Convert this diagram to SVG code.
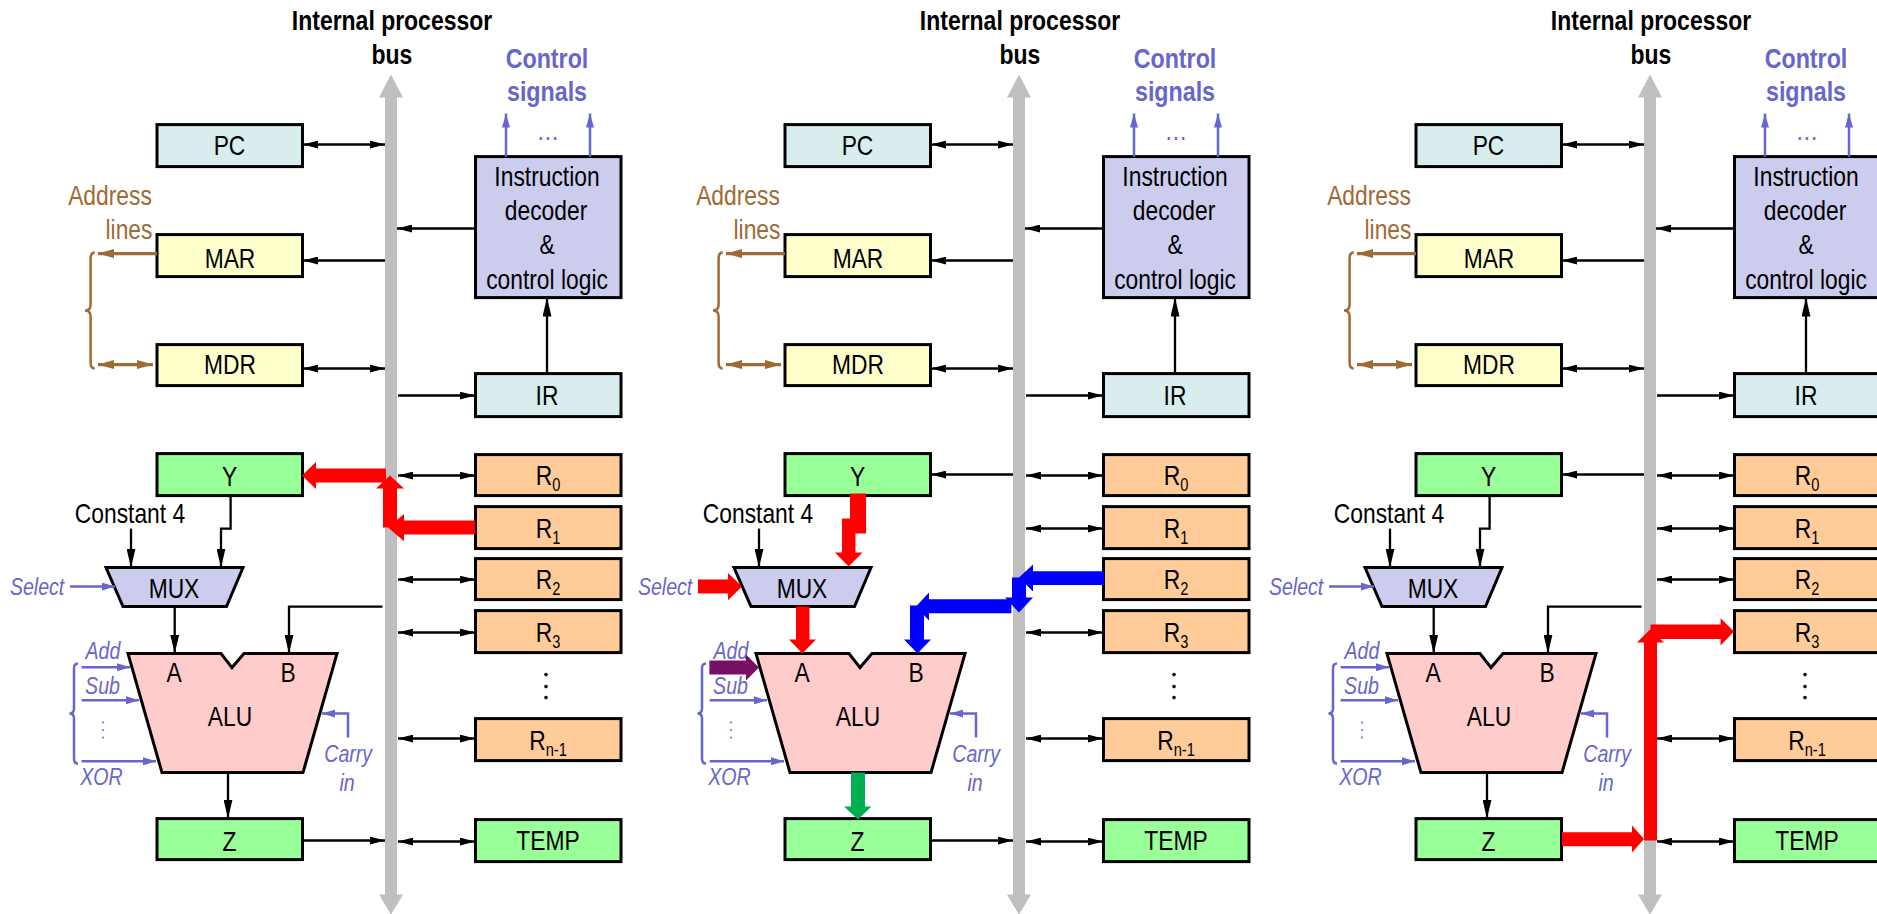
<svg xmlns="http://www.w3.org/2000/svg" width="1877" height="914" viewBox="0 0 1877 914">
<style>
text{font-family:"Liberation Sans",Arial,sans-serif;font-size:28px;text-anchor:middle;fill:#000;transform-box:fill-box;transform-origin:center;transform:scaleX(.815)}
.hd{font-weight:bold;transform:scaleX(.82)}
.ctl{font-weight:bold;fill:#6666cc;transform:scaleX(.83)}
.it{font-style:italic;font-size:24px;fill:#6666cc}
.br{fill:#a06a35}
.blu{fill:#6666cc}
.sub{font-size:18px}
.n{stroke:#000;stroke-width:3}
.teal{fill:#d9edee}.yel{fill:#ffffcc}.grn{fill:#99ff99}.org{fill:#ffcc99}.lav{fill:#ccccee}.pnk{fill:#ffcccc}
.bus{fill:#bfbfbf}
.kd{fill:none;stroke:#000;stroke-width:2.5;marker-start:url(#hb);marker-end:url(#hb)}
.kh{fill:none;stroke:#000;stroke-width:2.5;marker-end:url(#hb)}
.kv{fill:none;stroke:#000;stroke-width:2.3;marker-end:url(#vb)}
.c{fill:none;stroke:#6666cc;stroke-width:2.5}
.ch{fill:none;stroke:#6666cc;stroke-width:2.5;marker-end:url(#bh)}
.cv{fill:none;stroke:#6666cc;stroke-width:2.5;marker-end:url(#bv)}
.b{fill:none;stroke:#a06a35;stroke-width:2.5}
.bh{fill:none;stroke:#a06a35;stroke-width:3.2;marker-end:url(#nh)}
.bd{fill:none;stroke:#a06a35;stroke-width:3.2;marker-start:url(#nh);marker-end:url(#nh)}
.red{fill:#ff0000}.bl{fill:#0000ff}.pur{fill:#770f66}.gr{fill:#00b050}
.bd0{fill:#000}.bd1{fill:#6666cc}
</style>
<defs>
<marker id="hb" viewBox="0 0 15 8" refX="15" refY="4" markerWidth="15" markerHeight="8" markerUnits="userSpaceOnUse" orient="auto-start-reverse"><path d="M0,0L15,4L0,8Z" fill="#000"/></marker>
<marker id="vb" viewBox="0 0 19 9" refX="19" refY="4.5" markerWidth="19" markerHeight="9" markerUnits="userSpaceOnUse" orient="auto"><path d="M0,0L19,4.5L0,9Z" fill="#000"/></marker>
<marker id="bh" viewBox="0 0 13 8" refX="13" refY="4" markerWidth="13" markerHeight="8" markerUnits="userSpaceOnUse" orient="auto"><path d="M0,0L13,4L0,8Z" fill="#6666cc"/></marker>
<marker id="bv" viewBox="0 0 14 8" refX="14" refY="4" markerWidth="14" markerHeight="8" markerUnits="userSpaceOnUse" orient="auto"><path d="M0,0L14,4L0,8Z" fill="#6666cc"/></marker>
<marker id="nh" viewBox="0 0 16 9" refX="16" refY="4.5" markerWidth="16" markerHeight="9" markerUnits="userSpaceOnUse" orient="auto-start-reverse"><path d="M0,0L16,4.5L0,9Z" fill="#a06a35"/></marker>
</defs>
<rect width="1877" height="914" fill="#fff"/>

<g id="panel1" transform="translate(0,.6)">
<g id="p1-bus"><path class="bus" d="M391,74L403,97H397V894H403L391,914L379,894H385V97H379Z"/><text class="hd" x="392" y="29.5">Internal processor</text><text class="hd" x="392" y="63">bus</text></g>
<g id="p1-pc"><rect class="n teal" x="157" y="124" width="145.500" height="42"/><text x="229.500" y="154">PC</text></g>
<g id="p1-mar"><rect class="n yel" x="157" y="234" width="145.500" height="42"/><text x="230" y="267">MAR</text></g>
<g id="p1-mdr"><rect class="n yel" x="157" y="344" width="145.500" height="41"/><text x="230" y="373">MDR</text></g>
<g id="p1-dec"><rect class="n lav" x="475.500" y="156" width="145.500" height="141"/><text x="547" y="185">Instruction</text><text x="546" y="219">decoder</text><text x="547" y="253">&amp;</text><text x="547" y="288">control logic</text></g>
<g id="p1-ir"><rect class="n teal" x="475.500" y="373" width="145.500" height="43"/><text x="547" y="404">IR</text></g>
<g id="p1-y"><rect class="n grn" x="157" y="453" width="145.500" height="42"/><text x="229.500" y="485">Y</text></g>
<g id="p1-r0"><rect class="n org" x="475.500" y="454" width="145.500" height="41"/><text x="548" y="484">R<tspan class="sub" dy="6">0</tspan></text></g>
<g id="p1-r1"><rect class="n org" x="475.500" y="506" width="145.500" height="42"/><text x="548" y="537">R<tspan class="sub" dy="6">1</tspan></text></g>
<g id="p1-r2"><rect class="n org" x="475.500" y="558" width="145.500" height="41"/><text x="548" y="588">R<tspan class="sub" dy="6">2</tspan></text></g>
<g id="p1-r3"><rect class="n org" x="475.500" y="610" width="145.500" height="42"/><text x="548" y="641">R<tspan class="sub" dy="6">3</tspan></text></g>
<g id="p1-dots"><circle class="bd0" cx="546" cy="674" r="1.800"/><circle class="bd0" cx="546" cy="686" r="1.800"/><circle class="bd0" cx="546" cy="697" r="1.800"/></g>
<g id="p1-rn"><rect class="n org" x="475.500" y="718" width="145.500" height="42"/><text x="548" y="749">R<tspan class="sub" dy="6">n-1</tspan></text></g>
<g id="p1-temp"><rect class="n grn" x="475.500" y="819" width="145.500" height="42"/><text x="548" y="849">TEMP</text></g>
<g id="p1-z"><rect class="n grn" x="157" y="818" width="145.500" height="41"/><text x="229.500" y="850">Z</text></g>
<g id="p1-mux"><path class="n lav" d="M106,567H243L226.500,606H123Z"/><text x="174" y="597">MUX</text></g>
<g id="p1-alu"><path class="n pnk" d="M128,653H221L232,667L244,653H337L303,772H162Z"/><text x="174" y="681">A</text><text x="288" y="681">B</text><text x="230" y="725">ALU</text></g>
<g id="p1-labels"><text class="ctl" x="547" y="67">Control</text><text class="ctl" x="547" y="100">signals</text><text class="blu" x="548" y="139">…</text><text class="br" x="110" y="204">Address</text><text class="br" x="129" y="238.700">lines</text><text x="130" y="522">Constant 4</text><text class="it" x="37" y="594">Select</text><text class="it" x="103" y="658">Add</text><text class="it" x="102.500" y="693">Sub</text><text class="it" x="101.600" y="784">XOR</text><text class="it" x="348" y="761">Carry</text><text class="it" x="347" y="790">in</text><circle class="bd1" cx="103" cy="722" r="1"/><circle class="bd1" cx="103" cy="729.500" r="1"/><circle class="bd1" cx="103" cy="737" r="1"/></g>
<g id="p1-connectors">
<path class="kd" d="M303,144H385"/><path class="kh" d="M475,228H397"/><path class="kh" d="M385,260H303"/><path class="kd" d="M303,368H385"/><path class="kh" d="M398,395H475"/><path class="kv" d="M547,373V297"/>
<path class="kd" d="M398,475H475"/><path class="kd" d="M398,579H475"/><path class="kd" d="M398,632H475"/><path class="kd" d="M398,738H475"/><path class="kd" d="M398,841H475"/><path class="kh" d="M303,840H385"/>
<path class="kv" d="M230.600,495V528H221V567"/><path class="kv" d="M131,528V567"/><path class="kv" d="M174.700,606V653"/><path class="kv" d="M382.500,606H289V653"/><path class="kv" d="M228,772V818"/>
<path class="cv" d="M506,156V113"/><path class="cv" d="M590,156V113"/>
<path class="ch" d="M70,586H115"/><path class="ch" d="M81.600,666.700H130"/><path class="ch" d="M81.600,699.700H139"/><path class="ch" d="M81.600,760.700H156"/><path class="ch" d="M348,737V713H322"/>
<path class="c" d="M78,663Q74,663 74,668V708Q74,713 69.500,713Q74,713 74,718V758Q74,763 78,763"/>
<path class="b" d="M94.700,252Q90.600,252 90.600,258V304Q90.600,310 85,310Q90.600,310 90.600,316V362Q90.600,368 94.700,368"/>
<path class="bh" d="M157,253H98"/><path class="bd" d="M98,364H153"/>
<path class="red" d="M386,468V482H316V488.500L302,475L316,461.500V468Z"/>
<path class="red" d="M475,520V534H404V540.700L388,527L404,513.300V520Z"/>
<path class="red" d="M383,527V488H376L390,475L404,488H397V527Z"/>
</g>
</g>

<g id="panel2" transform="translate(628,.6)">
<g id="p2-bus"><path class="bus" d="M391,74L403,97H397V894H403L391,914L379,894H385V97H379Z"/><text class="hd" x="392" y="29.5">Internal processor</text><text class="hd" x="392" y="63">bus</text></g>
<g id="p2-pc"><rect class="n teal" x="157" y="124" width="145.500" height="42"/><text x="229.500" y="154">PC</text></g>
<g id="p2-mar"><rect class="n yel" x="157" y="234" width="145.500" height="42"/><text x="230" y="267">MAR</text></g>
<g id="p2-mdr"><rect class="n yel" x="157" y="344" width="145.500" height="41"/><text x="230" y="373">MDR</text></g>
<g id="p2-dec"><rect class="n lav" x="475.500" y="156" width="145.500" height="141"/><text x="547" y="185">Instruction</text><text x="546" y="219">decoder</text><text x="547" y="253">&amp;</text><text x="547" y="288">control logic</text></g>
<g id="p2-ir"><rect class="n teal" x="475.500" y="373" width="145.500" height="43"/><text x="547" y="404">IR</text></g>
<g id="p2-y"><rect class="n grn" x="157" y="453" width="145.500" height="42"/><text x="229.500" y="485">Y</text></g>
<g id="p2-r0"><rect class="n org" x="475.500" y="454" width="145.500" height="41"/><text x="548" y="484">R<tspan class="sub" dy="6">0</tspan></text></g>
<g id="p2-r1"><rect class="n org" x="475.500" y="506" width="145.500" height="42"/><text x="548" y="537">R<tspan class="sub" dy="6">1</tspan></text></g>
<g id="p2-r2"><rect class="n org" x="475.500" y="558" width="145.500" height="41"/><text x="548" y="588">R<tspan class="sub" dy="6">2</tspan></text></g>
<g id="p2-r3"><rect class="n org" x="475.500" y="610" width="145.500" height="42"/><text x="548" y="641">R<tspan class="sub" dy="6">3</tspan></text></g>
<g id="p2-dots"><circle class="bd0" cx="546" cy="674" r="1.800"/><circle class="bd0" cx="546" cy="686" r="1.800"/><circle class="bd0" cx="546" cy="697" r="1.800"/></g>
<g id="p2-rn"><rect class="n org" x="475.500" y="718" width="145.500" height="42"/><text x="548" y="749">R<tspan class="sub" dy="6">n-1</tspan></text></g>
<g id="p2-temp"><rect class="n grn" x="475.500" y="819" width="145.500" height="42"/><text x="548" y="849">TEMP</text></g>
<g id="p2-z"><rect class="n grn" x="157" y="818" width="145.500" height="41"/><text x="229.500" y="850">Z</text></g>
<g id="p2-mux"><path class="n lav" d="M106,567H243L226.500,606H123Z"/><text x="174" y="597">MUX</text></g>
<g id="p2-alu"><path class="n pnk" d="M128,653H221L232,667L244,653H337L303,772H162Z"/><text x="174" y="681">A</text><text x="288" y="681">B</text><text x="230" y="725">ALU</text></g>
<g id="p2-labels"><text class="ctl" x="547" y="67">Control</text><text class="ctl" x="547" y="100">signals</text><text class="blu" x="548" y="139">…</text><text class="br" x="110" y="204">Address</text><text class="br" x="129" y="238.700">lines</text><text x="130" y="522">Constant 4</text><text class="it" x="37" y="594">Select</text><text class="it" x="103" y="658">Add</text><text class="it" x="102.500" y="693">Sub</text><text class="it" x="101.600" y="784">XOR</text><text class="it" x="348" y="761">Carry</text><text class="it" x="347" y="790">in</text><circle class="bd1" cx="103" cy="722" r="1"/><circle class="bd1" cx="103" cy="729.500" r="1"/><circle class="bd1" cx="103" cy="737" r="1"/></g>
<g id="p2-connectors">
<path class="kd" d="M303,144H385"/><path class="kh" d="M475,228H397"/><path class="kh" d="M385,260H303"/><path class="kd" d="M303,368H385"/><path class="kh" d="M398,395H475"/><path class="kv" d="M547,373V297"/>
<path class="kh" d="M385,474H303"/><path class="kd" d="M398,475H475"/><path class="kd" d="M398,528H475"/><path class="kd" d="M398,632H475"/><path class="kd" d="M398,738H475"/><path class="kd" d="M398,841H475"/><path class="kh" d="M303,840H385"/>
<path class="kv" d="M131,528V567"/>
<path class="cv" d="M506,156V113"/><path class="cv" d="M590,156V113"/>
<path class="ch" d="M81.600,699.700H139"/><path class="ch" d="M81.600,760.700H156"/><path class="ch" d="M348,737V713H322"/>
<path class="c" d="M78,663Q74,663 74,668V708Q74,713 69.500,713Q74,713 74,718V758Q74,763 78,763"/>
<path class="b" d="M94.700,252Q90.600,252 90.600,258V304Q90.600,310 85,310Q90.600,310 90.600,316V362Q90.600,368 94.700,368"/>
<path class="bh" d="M157,253H98"/><path class="bd" d="M98,364H153"/>
<path class="red" d="M222,493H238V533H227.500V552H234.500L220.600,566L207,552H214V518H222Z"/>
<path class="red" d="M70,579H100V572.300L114,586L100,599.700V593H70Z"/>
<path class="red" d="M168,606H181.500V639H188L174.400,653L161,639H168Z"/>
<path class="bl" d="M476,570.700V584.300H405V591L391,577L405,564V570.700Z"/>
<path class="bl" d="M384,577H398V597H405L391,612L377,597H384Z"/>
<path class="bl" d="M383.400,598.700V612.700H301V620L288,606L301,592V598.700Z"/>
<path class="bl" d="M282,605H296V639H303L289.500,653L276,639H282Z"/>
<path class="pur" d="M81.400,660H118V654L131,667L118,680V674H81.400Z"/>
<path class="gr" d="M223,772H237V806H243.500L230,819L216,806H223Z"/>
</g>
</g>

<g id="panel3" transform="translate(1259,.6)">
<g id="p3-bus"><path class="bus" d="M391,74L403,97H397V894H403L391,914L379,894H385V97H379Z"/><text class="hd" x="392" y="29.5">Internal processor</text><text class="hd" x="392" y="63">bus</text></g>
<g id="p3-pc"><rect class="n teal" x="157" y="124" width="145.500" height="42"/><text x="229.500" y="154">PC</text></g>
<g id="p3-mar"><rect class="n yel" x="157" y="234" width="145.500" height="42"/><text x="230" y="267">MAR</text></g>
<g id="p3-mdr"><rect class="n yel" x="157" y="344" width="145.500" height="41"/><text x="230" y="373">MDR</text></g>
<g id="p3-dec"><rect class="n lav" x="475.500" y="156" width="145.500" height="141"/><text x="547" y="185">Instruction</text><text x="546" y="219">decoder</text><text x="547" y="253">&amp;</text><text x="547" y="288">control logic</text></g>
<g id="p3-ir"><rect class="n teal" x="475.500" y="373" width="145.500" height="43"/><text x="547" y="404">IR</text></g>
<g id="p3-y"><rect class="n grn" x="157" y="453" width="145.500" height="42"/><text x="229.500" y="485">Y</text></g>
<g id="p3-r0"><rect class="n org" x="475.500" y="454" width="145.500" height="41"/><text x="548" y="484">R<tspan class="sub" dy="6">0</tspan></text></g>
<g id="p3-r1"><rect class="n org" x="475.500" y="506" width="145.500" height="42"/><text x="548" y="537">R<tspan class="sub" dy="6">1</tspan></text></g>
<g id="p3-r2"><rect class="n org" x="475.500" y="558" width="145.500" height="41"/><text x="548" y="588">R<tspan class="sub" dy="6">2</tspan></text></g>
<g id="p3-r3"><rect class="n org" x="475.500" y="610" width="145.500" height="42"/><text x="548" y="641">R<tspan class="sub" dy="6">3</tspan></text></g>
<g id="p3-dots"><circle class="bd0" cx="546" cy="674" r="1.800"/><circle class="bd0" cx="546" cy="686" r="1.800"/><circle class="bd0" cx="546" cy="697" r="1.800"/></g>
<g id="p3-rn"><rect class="n org" x="475.500" y="718" width="145.500" height="42"/><text x="548" y="749">R<tspan class="sub" dy="6">n-1</tspan></text></g>
<g id="p3-temp"><rect class="n grn" x="475.500" y="819" width="145.500" height="42"/><text x="548" y="849">TEMP</text></g>
<g id="p3-z"><rect class="n grn" x="157" y="818" width="145.500" height="41"/><text x="229.500" y="850">Z</text></g>
<g id="p3-mux"><path class="n lav" d="M106,567H243L226.500,606H123Z"/><text x="174" y="597">MUX</text></g>
<g id="p3-alu"><path class="n pnk" d="M128,653H221L232,667L244,653H337L303,772H162Z"/><text x="174" y="681">A</text><text x="288" y="681">B</text><text x="230" y="725">ALU</text></g>
<g id="p3-labels"><text class="ctl" x="547" y="67">Control</text><text class="ctl" x="547" y="100">signals</text><text class="blu" x="548" y="139">…</text><text class="br" x="110" y="204">Address</text><text class="br" x="129" y="238.700">lines</text><text x="130" y="522">Constant 4</text><text class="it" x="37" y="594">Select</text><text class="it" x="103" y="658">Add</text><text class="it" x="102.500" y="693">Sub</text><text class="it" x="101.600" y="784">XOR</text><text class="it" x="348" y="761">Carry</text><text class="it" x="347" y="790">in</text><circle class="bd1" cx="103" cy="722" r="1"/><circle class="bd1" cx="103" cy="729.500" r="1"/><circle class="bd1" cx="103" cy="737" r="1"/></g>
<g id="p3-connectors">
<path class="kd" d="M303,144H385"/><path class="kh" d="M475,228H397"/><path class="kh" d="M385,260H303"/><path class="kd" d="M303,368H385"/><path class="kh" d="M398,395H475"/><path class="kv" d="M547,373V297"/>
<path class="kh" d="M385,474H303"/><path class="kd" d="M398,475H475"/><path class="kd" d="M398,528H475"/><path class="kd" d="M398,579H475"/><path class="kd" d="M398,738H475"/><path class="kd" d="M398,841H475"/>
<path class="kv" d="M230.600,495V528H221V567"/><path class="kv" d="M131,528V567"/><path class="kv" d="M174.700,606V653"/><path class="kv" d="M382.500,606H289V653"/><path class="kv" d="M228,772V818"/>
<path class="cv" d="M506,156V113"/><path class="cv" d="M590,156V113"/>
<path class="ch" d="M70,586H115"/><path class="ch" d="M81.600,666.700H130"/><path class="ch" d="M81.600,699.700H139"/><path class="ch" d="M81.600,760.700H156"/><path class="ch" d="M348,737V713H322"/>
<path class="c" d="M78,663Q74,663 74,668V708Q74,713 69.500,713Q74,713 74,718V758Q74,763 78,763"/>
<path class="b" d="M94.700,252Q90.600,252 90.600,258V304Q90.600,310 85,310Q90.600,310 90.600,316V362Q90.600,368 94.700,368"/>
<path class="bh" d="M157,253H98"/><path class="bd" d="M98,364H153"/>
<path class="red" d="M303,831.700H373V825L385,838.500L373,852V845.700H303Z"/>
<path class="red" d="M385,840V642H378L391,629L405,642H398V840Z"/>
<path class="red" d="M391.500,624H461.600V617.700L475,631L461.600,645V638.300H391.500Z"/>
</g>
</g>
</svg>
